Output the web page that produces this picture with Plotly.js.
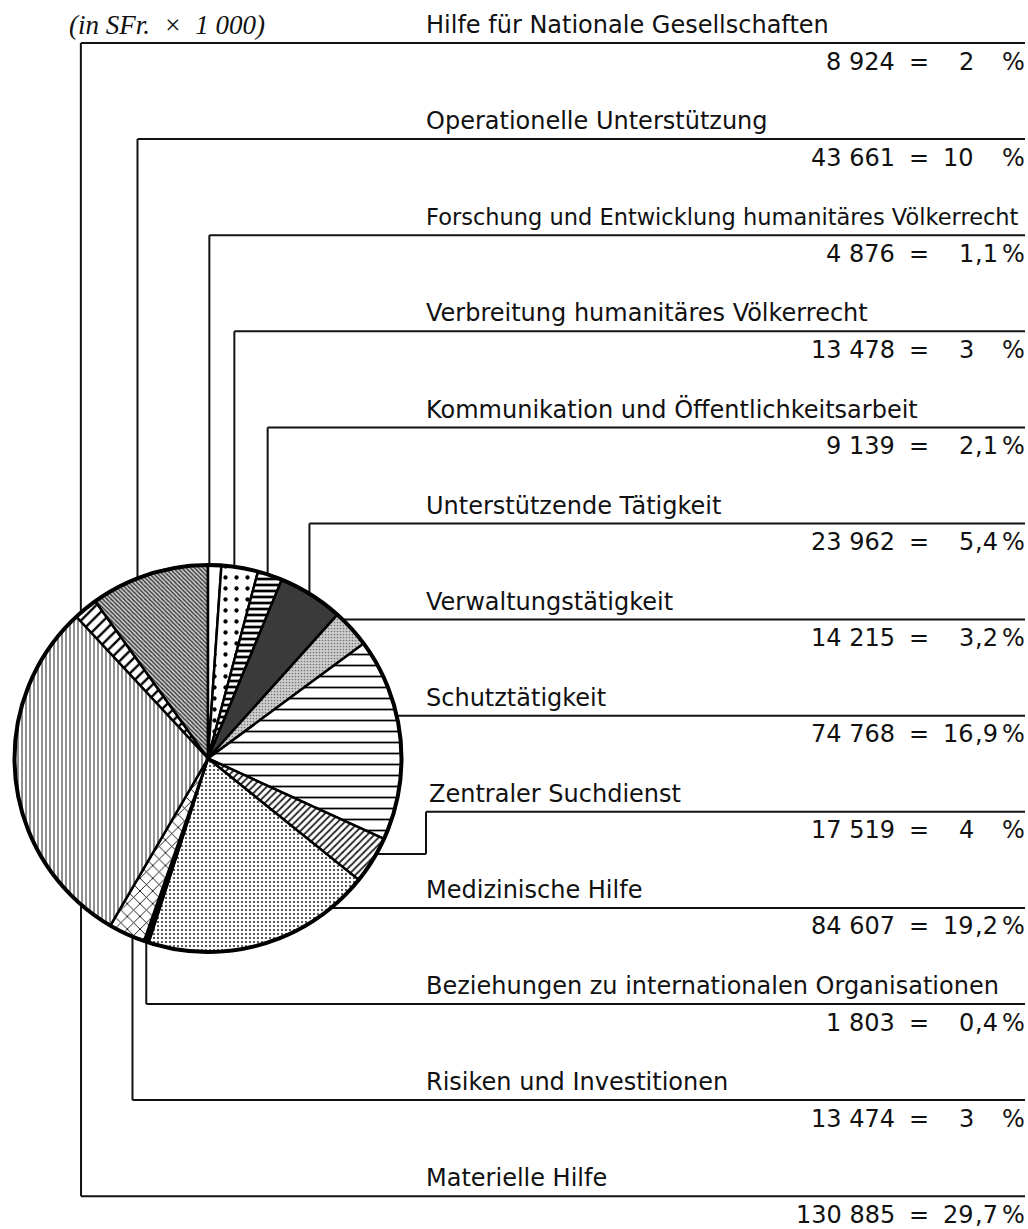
<!DOCTYPE html>
<html><head><meta charset="utf-8">
<script src="https://cdn.plot.ly/plotly-3.0.1.min.js"></script>
<style>html,body{margin:0;padding:0;background:#fff}</style>
</head><body>
<div id="chart" style="width:1028px;height:1229px"></div>
<script>
// ---- Data (rows in printed order, top to bottom; pie drawn clockwise in the same order) ----
const categories = [
  "Hilfe für Nationale Gesellschaften",
  "Operationelle Unterstützung",
  "Forschung und Entwicklung humanitäres Völkerrecht",
  "Verbreitung humanitäres Völkerrecht",
  "Kommunikation und Öffentlichkeitsarbeit",
  "Unterstützende Tätigkeit",
  "Verwaltungstätigkeit",
  "Schutztätigkeit",
  "Zentraler Suchdienst",
  "Medizinische Hilfe",
  "Beziehungen zu internationalen Organisationen",
  "Risiken und Investitionen",
  "Materielle Hilfe"
];
const amounts = [8924, 43661, 4876, 13478, 9139, 23962, 14215, 74768, 17519, 84607, 1803, 13474, 130885];
const percents = [2, 10, 1.1, 3, 2.1, 5.4, 3.2, 16.9, 4, 19.2, 0.4, 3, 29.7];
const unitLabel = "(in SFr.\u00a0\u00a0×\u00a0\u00a01\u00a0000)";

// ---- Styles (fills per slice, same order) ----
const fillColors  = ['#ffffff','#d0d0d0','#ffffff','#ffffff','#ffffff','#3a3a3a','#cfcfcf','#ffffff','#ffffff','#ffffff','#000000','#ffffff','#ffffff'];
const patShapes   = ['/',      '\\',     '',       '.',      '-',      '',       '.',      '-',      '/',      '.',      '',       'x',      '|'];
const patFg       = ['#000',   '#333',   '#000',   '#000',   '#000',   '#000',   '#777',   '#000',   '#222',   '#222',   '#000',   '#000',   '#222'];
const patSize     = [8,        3,        8,        11,       6,        8,        3,        11,       5,        4,        8,        9,        4];
const patSolidity = [0.3,      0.45,     0.3,      0.12,     0.45,     0.3,      0.25,     0.16,     0.35,     0.2,      0.3,      0.18,     0.25];

// ---- Layout geometry ----
const W = 1028, H = 1229;
const cx = 208, cy = 758.5, R = 193.5;
const rowTop = 43, rowStep = 96.1, rightEdge = 1025;
const leaderKind = ['top','top','top','top','top','top','right','right','jog','right','bottom','bottom','bottom'];
const leaderFrac = [0.25, 0.4, 0.1, 0.35, 0.4, 0.47, 0, 0, 0.35, 0, 0.5, 0.33, 0.1];
const labelSize  = [24, 24, 22.5, 24, 24, 24, 24, 24, 24, 24, 24, 24, 24];
const labelX     = [425, 425, 425, 425, 425, 425, 425, 425, 428, 425, 425, 425, 425];
const jogX = 426;
const numRight = 896, eqCenter = 919, pctIntRight = 975, pctRight = 1026;

const px = x => x / W, py = y => 1 - y / H;
const total = amounts.reduce((a, b) => a + b, 0);
const rotation = -(amounts[0] + amounts[1]) / total * 360;
let acc = rotation;
const startDeg = amounts.map(v => { const s = acc; acc += v / total * 360; return s; });
function anchor(i) {
  const a = (startDeg[i] + leaderFrac[i] * amounts[i] / total * 360) * Math.PI / 180;
  return [cx + R * Math.sin(a), cy - R * Math.cos(a)];
}

const shapes = [];
const lineStyle = {color: '#111', width: 2};
function seg(x0, y0, x1, y1) {
  shapes.push({type: 'line', xref: 'paper', yref: 'paper', x0: px(x0), y0: py(y0), x1: px(x1), y1: py(y1), line: lineStyle});
}
const annotations = [];
const fam = 'DejaVu Sans, Arial, sans-serif';
function ann(text, x, y, xanchor, size, fontObj) {
  annotations.push({text: text, x: px(x), y: py(y), xref: 'paper', yref: 'paper',
    xanchor: xanchor, yanchor: 'middle', showarrow: false, borderpad: 0,
    font: fontObj || {family: fam, size: size, color: '#111'}});
}
const fmtNum = v => v >= 1000 ? Math.floor(v / 1000) + ' ' + String(v % 1000).padStart(3, '0') : String(v);

categories.forEach((c, i) => {
  const ly = rowTop + rowStep * i;
  const k = leaderKind[i];
  let startX;
  if (k === 'top' || k === 'bottom') {
    const [ax, ay] = anchor(i);
    seg(ax, ly, ax, ay);
    startX = ax;
  } else if (k === 'right') {
    startX = cx + Math.sqrt(R * R - (ly - cy) * (ly - cy));
  } else {
    const [ax, ay] = anchor(i);
    seg(ax, ay, jogX, ay);
    seg(jogX, ay, jogX, ly);
    startX = jogX;
  }
  seg(startX, ly, rightEdge, ly);

  // texts
  ann(c, labelX[i], ly - 18, 'left', labelSize[i]);
  const vy = ly + 18.5;
  ann(fmtNum(amounts[i]), numRight, vy, 'right', 24);
  ann('=', eqCenter, vy, 'center', 24);
  const p = percents[i];
  const ip = Math.trunc(p);
  ann(String(ip), pctIntRight, vy, 'right', 24);
  if (Math.abs(p - ip) > 1e-9) {
    ann(',' + Math.round((p - ip) * 10), pctIntRight - 1, vy, 'left', 24);
  }
  ann('%', pctRight, vy, 'right', 24);
});

ann(unitLabel, 68, 25, 'left', 27, {family: 'Liberation Serif, Times New Roman, serif', size: 27, color: '#111', style: 'italic'});

// outer ring of the pie
shapes.push({type: 'circle', xref: 'paper', yref: 'paper', x0: px(cx - R), x1: px(cx + R), y0: py(cy + R), y1: py(cy - R),
  line: {color: '#000', width: 4}, fillcolor: 'rgba(0,0,0,0)'});

const trace = {
  type: 'pie',
  labels: categories,
  values: amounts,
  sort: false,
  direction: 'clockwise',
  rotation: rotation,
  textinfo: 'none',
  hoverinfo: 'none',
  domain: {x: [px(cx - R), px(cx + R)], y: [py(cy + R), py(cy - R)]},
  marker: {
    colors: fillColors,
    line: {color: '#000', width: 2.5},
    pattern: {shape: patShapes, fgcolor: patFg, bgcolor: fillColors, size: patSize, solidity: patSolidity, fillmode: 'replace'}
  }
};

Plotly.newPlot('chart', [trace], {
  width: W, height: H,
  margin: {l: 0, r: 0, t: 0, b: 0},
  paper_bgcolor: '#fff', plot_bgcolor: '#fff',
  showlegend: false,
  shapes: shapes,
  annotations: annotations
}, {staticPlot: true, displayModeBar: false});
</script>
</body></html>
